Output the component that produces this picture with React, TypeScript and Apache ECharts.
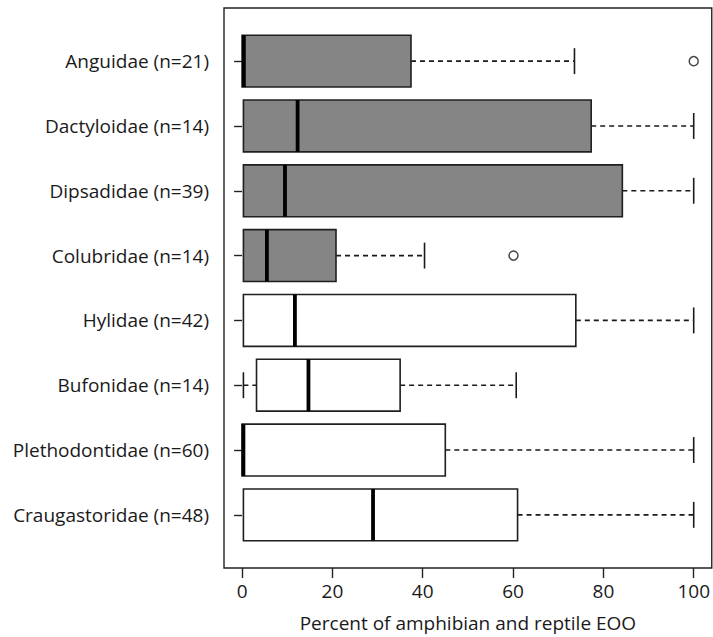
import React, { useEffect, useRef } from "react";
import * as echarts from "echarts";

const categories = [
  "Anguidae (n=21)",
  "Dactyloidae (n=14)",
  "Dipsadidae (n=39)",
  "Colubridae (n=14)",
  "Hylidae (n=42)",
  "Bufonidae (n=14)",
  "Plethodontidae (n=60)",
  "Craugastoridae (n=48)",
];
const lowerWhisker = [0, 0.3, 0.3, 0.3, 0.3, 0.3, 0, 0.3];
const q1 = [0, 0.3, 0.3, 0.3, 0.3, 3.2, 0, 0.3];
const median = [0.4, 12.3, 9.5, 5.5, 11.7, 14.7, 0.3, 29.0];
const q3 = [37.4, 77.3, 84.2, 20.8, 73.9, 35.0, 45.0, 61.0];
const upperWhisker = [73.6, 100, 100, 40.4, 100, 60.7, 100, 100];
const group = ["reptile", "reptile", "reptile", "reptile", "amphibian", "amphibian", "amphibian", "amphibian"];
const outlierCategory = [0, 3];
const outlierValue = [100, 60.1];
const xTicks = [0, 20, 40, 60, 80, 100];
const yTicks = [1, 2, 3, 4, 5, 6, 7, 8];

const FONT = "Open Sans";

export default function App() {
  const ref = useRef<HTMLDivElement>(null);
  useEffect(() => {
    if (!ref.current) return;
    const chart = echarts.init(ref.current, null, { renderer: "svg" });
    const boxData = categories.map((_, i) => [
      i + 1,
      lowerWhisker[i],
      q1[i],
      median[i],
      q3[i],
      upperWhisker[i],
      group[i] === "reptile" ? 1 : 0,
    ]);
    const outliers = outlierCategory.map((c, i) => [outlierValue[i], c + 1]);
    chart.setOption({
      animation: false,
      grid: {
        left: 224,
        right: 1,
        top: 8,
        bottom: 67,
        show: true,
        borderColor: "#222",
        borderWidth: 1.4,
        backgroundColor: "transparent",
      },
      xAxis: {
        type: "value",
        min: -4,
        max: 104,
        splitLine: { show: false },
        axisLine: { show: false },
        axisTick: {
          show: true,
          customValues: xTicks,
          length: 10,
          lineStyle: { color: "#222", width: 1.4 },
        },
        axisLabel: {
          customValues: xTicks,
          fontFamily: FONT,
          fontSize: 19,
          color: "#1a1a1a",
          margin: 13,
        },
        name: "Percent of amphibian and reptile EOO",
        nameLocation: "middle",
        nameGap: 45,
        nameTextStyle: { fontFamily: FONT, fontSize: 19, color: "#1a1a1a" },
      },
      yAxis: {
        type: "value",
        inverse: true,
        min: 0.18,
        max: 8.82,
        splitLine: { show: false },
        axisLine: { show: false },
        axisTick: {
          show: true,
          customValues: yTicks,
          length: 8,
          lineStyle: { color: "#222", width: 1.4 },
        },
        axisLabel: {
          customValues: yTicks,
          formatter: (v: number) => categories[Math.round(v) - 1] ?? "",
          fontFamily: FONT,
          fontSize: 19,
          color: "#1a1a1a",
          margin: 15,
        },
      },
      series: [
        {
          type: "custom",
          data: boxData,
          renderItem: (params: any, api: any) => {
            const pos = api.value(0);
            const lo = api.value(1);
            const b1 = api.value(2);
            const md = api.value(3);
            const b3 = api.value(4);
            const hi = api.value(5);
            const filled = api.value(6) === 1;
            const half = api.size([0, 0.4])[1];
            const staple = api.size([0, 0.2])[1];
            const pLo = api.coord([lo, pos]);
            const pQ1 = api.coord([b1, pos]);
            const pMd = api.coord([md, pos]);
            const pQ3 = api.coord([b3, pos]);
            const pHi = api.coord([hi, pos]);
            const y = pMd[1];
            const children: any[] = [];
            const dash = { stroke: "#1a1a1a", lineWidth: 1.6, lineDash: [5, 4] };
            const solid = { stroke: "#1a1a1a", lineWidth: 1.6 };
            if (pQ1[0] - pLo[0] > 1) {
              children.push({ type: "line", shape: { x1: pLo[0], y1: y, x2: pQ1[0], y2: y }, style: dash });
              children.push({ type: "line", shape: { x1: pLo[0], y1: y - staple, x2: pLo[0], y2: y + staple }, style: solid });
            }
            if (pHi[0] - pQ3[0] > 1) {
              children.push({ type: "line", shape: { x1: pQ3[0], y1: y, x2: pHi[0], y2: y }, style: dash });
              children.push({ type: "line", shape: { x1: pHi[0], y1: y - staple, x2: pHi[0], y2: y + staple }, style: solid });
            }
            children.push({
              type: "rect",
              shape: { x: pQ1[0], y: y - half, width: pQ3[0] - pQ1[0], height: 2 * half },
              style: { fill: filled ? "#858585" : "#ffffff", stroke: "#1f1f1f", lineWidth: 1.6 },
            });
            children.push({
              type: "line",
              shape: { x1: pMd[0], y1: y - half, x2: pMd[0], y2: y + half },
              style: { stroke: "#000", lineWidth: 3.8 },
            });
            return { type: "group", children };
          },
          z: 2,
        },
        {
          type: "scatter",
          data: outliers,
          symbol: "circle",
          symbolSize: 9,
          itemStyle: { color: "#fff", borderColor: "#1a1a1a", borderWidth: 1.5 },
          z: 3,
        },
      ],
    });
    return () => chart.dispose();
  }, []);
  return (
    <div
      ref={ref}
      style={{ position: "fixed", left: 0, top: 0, width: 713, height: 637, background: "#fff" }}
    />
  );
}
